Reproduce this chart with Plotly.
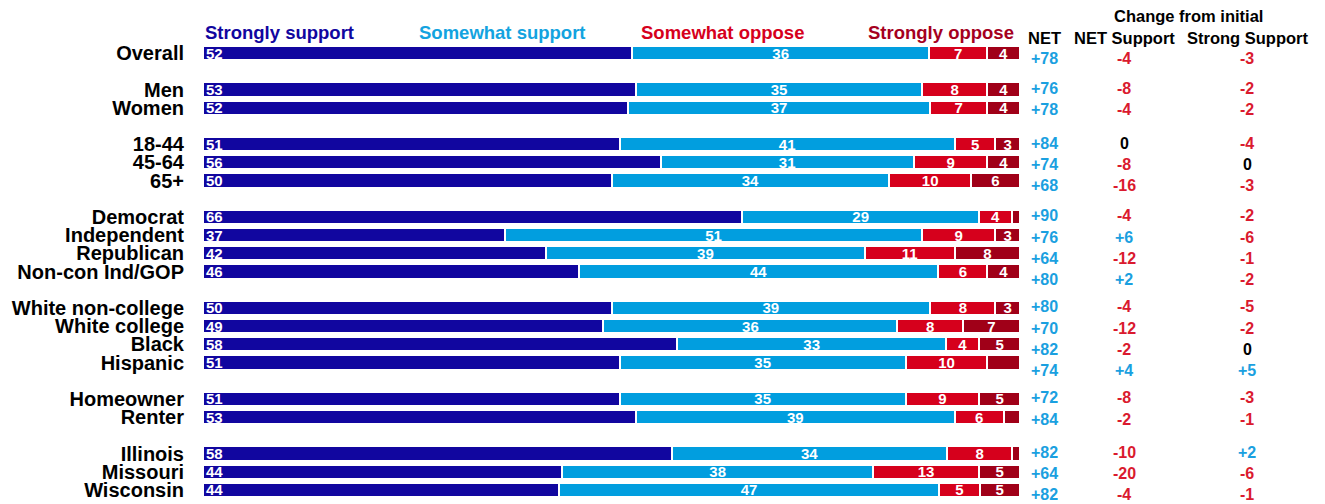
import plotly.graph_objects as go

# ---------------- data ----------------
categories = ["Overall", "Men", "Women", "18-44", "45-64", "65+",
              "Democrat", "Independent", "Republican", "Non-con Ind/GOP",
              "White non-college", "White college", "Black", "Hispanic",
              "Homeowner", "Renter", "Illinois", "Missouri", "Wisconsin"]
group_sizes = [1, 2, 3, 4, 4, 2, 3]

strongly_support = [52, 53, 52, 51, 56, 50, 66, 37, 42, 46, 50, 49, 58, 51, 51, 53, 58, 44, 44]
somewhat_support = [36, 35, 37, 41, 31, 34, 29, 51, 39, 44, 39, 36, 33, 35, 35, 39, 34, 38, 47]
somewhat_oppose = [7, 8, 7, 5, 9, 10, 4, 9, 11, 6, 8, 8, 4, 10, 9, 6, 8, 13, 5]
strongly_oppose = [4, 4, 4, 3, 4, 6, 1, 3, 8, 4, 3, 7, 5, 4, 5, 2, 1, 5, 5]
strongly_oppose_labels = ["4", "4", "4", "3", "4", "6", "", "3", "8", "4", "3", "7", "5", "", "5", "", "", "5", "5"]

net = [78, 76, 78, 84, 74, 68, 90, 76, 64, 80, 80, 70, 82, 74, 72, 84, 82, 64, 82]
change_support = [-4, -8, -4, 0, -8, -16, -4, 6, -12, 2, -4, -12, -2, 4, -8, -2, -10, -20, -4]
change_strong = [-3, -2, -2, -4, 0, -3, -2, -6, -1, -2, -5, -2, 0, 5, -3, -1, 2, -6, -1]

series_names = ["Strongly support", "Somewhat support", "Somewhat oppose", "Strongly oppose"]

# ---------------- styles ----------------
C_SS = "#11069F"
C_WS = "#019EDF"
C_WO = "#D6001C"
C_SO = "#A00018"
C_POS = "#1AA0E0"
C_NEG = "#DA1A2E"
FONT = "Arial, 'Liberation Sans', sans-serif"

# y slot positions (one blank slot between groups)
ypos = []
idx_in_group = []
slot = 0
for g in group_sizes:
    for k in range(g):
        ypos.append(slot)
        idx_in_group.append(k)
        slot += 1
    slot += 1
n_last = max(ypos)

fig = go.Figure()

def add_bar(vals, labels, name, color, anchor):
    fig.add_trace(go.Bar(
        y=ypos, x=vals, orientation="h", name=name,
        marker=dict(color=color, line=dict(color="white", width=2)),
        text=labels, textposition="inside", insidetextanchor=anchor,
        textangle=0,
        insidetextfont=dict(color="white", size=15, family=FONT, weight="bold"),
        hoverinfo="skip", showlegend=False,
    ))

add_bar(strongly_support, [str(v) for v in strongly_support], series_names[0], C_SS, "start")
add_bar(somewhat_support, [str(v) for v in somewhat_support], series_names[1], C_WS, "middle")
add_bar(somewhat_oppose, [str(v) for v in somewhat_oppose], series_names[2], C_WO, "middle")
add_bar(strongly_oppose, strongly_oppose_labels, series_names[3], C_SO, "middle")

annotations = []
# series headers
hdr = [
    (series_names[0], 0.0, "left", C_SS),
    (series_names[1], 0.367, "center", "#13A3E0"),
    (series_names[2], 0.636, "center", C_WO),
    (series_names[3], 0.9945, "right", "#A5001E"),
]
for t, x, xa, c in hdr:
    annotations.append(dict(text=t, x=x, xref="paper", y=1, yref="paper",
                            xanchor=xa, yanchor="middle", yshift=12, showarrow=False,
                            font=dict(size=18.5, color=c, family=FONT, weight="bold")))

X_NET = (1044 - 203) / 817
X_CS = (1124 - 203) / 817
X_CSS = (1247 - 203) / 817
for t, x, ys in [("NET", X_NET, 6), ("NET Support", X_CS, 6), ("Strong Support", X_CSS, 6),
                 ("Change from initial", (1188 - 203) / 817, 28)]:
    annotations.append(dict(text=t, x=x, xref="paper", y=1, yref="paper",
                            xanchor="center", yanchor="middle", yshift=ys, showarrow=False,
                            font=dict(size=16.5, color="black", family=FONT, weight="bold")))

def fmt(v):
    return f"+{v}" if v > 0 else str(v)

def col(v):
    return C_POS if v > 0 else (C_NEG if v < 0 else "black")

for i, y in enumerate(ypos):
    shift = 1 - 3 * idx_in_group[i]
    if i == 0:
        shift = -5
    annotations.append(dict(text=fmt(net[i]), x=X_NET, xref="paper", y=y, yref="y",
                            xanchor="center", yanchor="middle", yshift=shift, showarrow=False,
                            font=dict(size=16, color=C_POS, family=FONT, weight="bold")))
    annotations.append(dict(text=fmt(change_support[i]), x=X_CS, xref="paper", y=y, yref="y",
                            xanchor="center", yanchor="middle", yshift=shift, showarrow=False,
                            font=dict(size=16, color=col(change_support[i]), family=FONT, weight="bold")))
    annotations.append(dict(text=fmt(change_strong[i]), x=X_CSS, xref="paper", y=y, yref="y",
                            xanchor="center", yanchor="middle", yshift=shift, showarrow=False,
                            font=dict(size=16, color=col(change_strong[i]), family=FONT, weight="bold")))

fig.update_layout(
    width=1325, height=504,
    barmode="stack", barnorm="percent", bargap=0.22,
    margin=dict(l=203, r=305, t=44, b=5, autoexpand=False),
    plot_bgcolor="white", paper_bgcolor="white",
    annotations=annotations,
    uniformtext=dict(mode="show", minsize=15),
)
fig.update_xaxes(range=[0, 100], visible=False, showgrid=False, zeroline=False, automargin=False)
fig.update_yaxes(range=[n_last + 0.5, -0.5], tickmode="array", tickvals=ypos, ticktext=categories,
                 showgrid=False, zeroline=False, showline=False, ticks="", ticklabelstandoff=18,
                 automargin=False,
                 tickfont=dict(size=20, color="black", family=FONT, weight="bold"))

fig.write_html("out.html")
